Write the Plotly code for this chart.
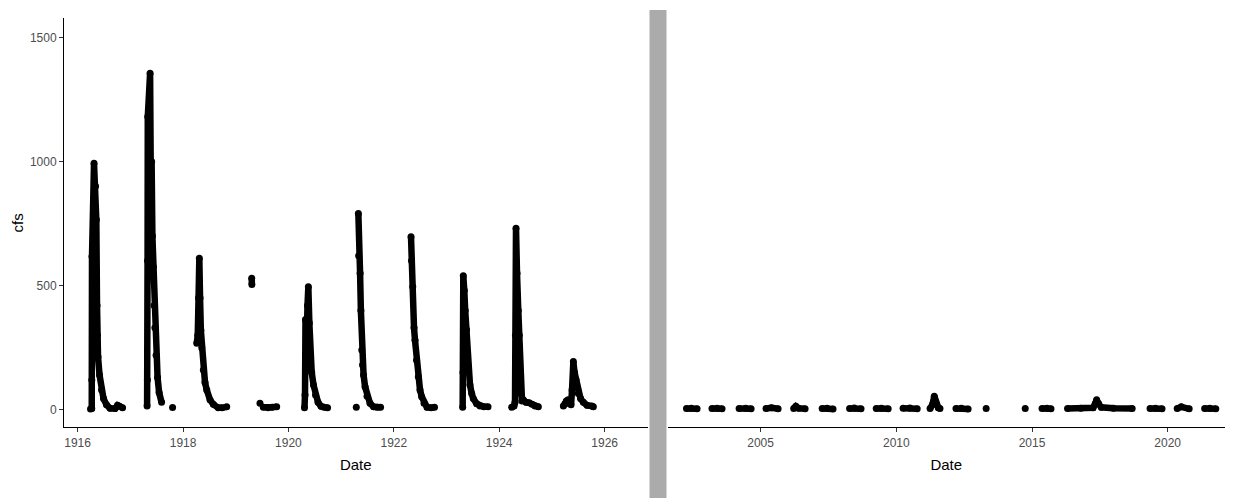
import plotly.graph_objects as go
from datetime import datetime, timedelta

# ---- data (decimal years, cfs) ----
ev1916_yr = [1916.245, 1916.268, 1916.269, 1916.273, 1916.311, 1916.340, 1916.355, 1916.368, 1916.374,
             1916.387, 1916.416, 1916.454, 1916.491, 1916.548, 1916.615, 1916.710, 1916.757, 1916.795, 1916.852]
ev1916_cfs = [3, 5, 120, 617, 993, 900, 765, 420, 300, 214, 140, 80, 45, 20, 6, 5, 18, 14, 8]

ev1917_yr = [1917.317, 1917.323, 1917.326, 1917.330, 1917.374, 1917.390, 1917.403, 1917.418, 1917.436,
             1917.450, 1917.465, 1917.488, 1917.516, 1917.545, 1917.592]
ev1917_cfs = [15, 120, 600, 1180, 1355, 850, 1000, 700, 576, 420, 330, 220, 130, 70, 30]
dot1917_yr = [1917.801]
dot1917_cfs = [9]

ev1918_yr = [1918.260, 1918.279, 1918.294, 1918.309, 1918.323, 1918.338, 1918.355, 1918.385, 1918.417,
             1918.450, 1918.512, 1918.575, 1918.670, 1918.740, 1918.829]
ev1918_cfs = [268, 300, 450, 610, 450, 320, 250, 160, 110, 80, 40, 22, 8, 8, 12]

ev1919a_yr = [1919.304, 1919.307]
ev1919a_cfs = [530, 505]
dot1919_yr = [1919.461]
dot1919_cfs = [26]
ev1919b_yr = [1919.524, 1919.613, 1919.689, 1919.778]
ev1919b_cfs = [10, 8, 10, 12]

ev1920_yr = [1920.305, 1920.315, 1920.324, 1920.344, 1920.362, 1920.378, 1920.397, 1920.416, 1920.442,
             1920.476, 1920.514, 1920.562, 1920.619, 1920.676, 1920.742]
ev1920_cfs = [8, 60, 364, 250, 420, 496, 350, 200, 150, 100, 60, 30, 14, 10, 8]

dot1921_yr = [1921.287]
dot1921_cfs = [10]
ev1921_yr = [1921.326, 1921.332, 1921.359, 1921.374, 1921.391, 1921.406, 1921.425, 1921.454, 1921.491,
             1921.548, 1921.615, 1921.681, 1921.748]
ev1921_cfs = [791, 620, 550, 400, 241, 180, 140, 93, 55, 26, 12, 10, 10]

ev1922_yr = [1922.326, 1922.336, 1922.359, 1922.383, 1922.402, 1922.431, 1922.465, 1922.497, 1922.529,
             1922.573, 1922.630, 1922.706, 1922.772]
ev1922_cfs = [697, 600, 496, 330, 280, 200, 133, 80, 53, 26, 10, 8, 10]

ev1923_yr = [1923.307, 1923.313, 1923.319, 1923.338, 1923.355, 1923.380, 1923.395, 1923.414, 1923.446,
             1923.478, 1923.509, 1923.573, 1923.636, 1923.712, 1923.788]
ev1923_cfs = [10, 150, 540, 480, 400, 322, 220, 160, 100, 66, 45, 24, 15, 12, 12]

ev1924_yr = [1924.237, 1924.281, 1924.300, 1924.309, 1924.319, 1924.338, 1924.362, 1924.381, 1924.395,
             1924.404, 1924.433, 1924.457, 1924.509, 1924.566, 1924.622, 1924.679, 1924.742]
ev1924_cfs = [10, 15, 30, 300, 731, 550, 400, 300, 150, 66, 35, 40, 30, 28, 22, 15, 12]

ev1925_yr = [1925.216, 1925.249, 1925.273, 1925.306, 1925.334, 1925.362, 1925.381, 1925.406, 1925.429,
             1925.457, 1925.501, 1925.543, 1925.596, 1925.666, 1925.755, 1925.786]
ev1925_cfs = [15, 25, 35, 40, 25, 20, 80, 194, 150, 120, 66, 45, 30, 18, 15, 12]

# recent period: one run of points per season
recent_yr = [
    [2002.27, 2002.45, 2002.66], [2003.21, 2003.40, 2003.58], [2004.21, 2004.45, 2004.65],
    [2005.20, 2005.40, 2005.645], [2006.22, 2006.30, 2006.40, 2006.64], [2007.27, 2007.45, 2007.67],
    [2008.28, 2008.45, 2008.70], [2009.26, 2009.45, 2009.70], [2010.25, 2010.50, 2010.77],
    [2011.245, 2011.33, 2011.40, 2011.47, 2011.55, 2011.61], [2012.20, 2012.40, 2012.645],
    [2013.31], [2014.75], [2015.37, 2015.55, 2015.70],
    [2016.31, 2016.80, 2017.25, 2017.33, 2017.38, 2017.45, 2017.55, 2018.00, 2018.69],
    [2019.35, 2019.55, 2019.79], [2020.35, 2020.50, 2020.79], [2021.36, 2021.55, 2021.77],
]
recent_cfs = [
    [5, 6, 4], [5, 6, 4], [5, 6, 4],
    [5, 8, 4], [5, 14, 6, 4], [5, 6, 3],
    [5, 7, 4], [5, 6, 4], [6, 7, 4],
    [5, 20, 55, 25, 8, 5], [5, 6, 3],
    [5], [5], [5, 6, 4],
    [5, 6, 8, 25, 40, 25, 10, 6, 5],
    [5, 6, 4], [5, 12, 4], [5, 6, 4],
]

y_ticks = [0, 500, 1000, 1500]
x1_ticks = [1916, 1918, 1920, 1922, 1924, 1926]
x2_ticks = [2005, 2010, 2015, 2020]


def to_date(d):
    y = int(d)
    start = datetime(y, 1, 1)
    ndays = (datetime(y + 1, 1, 1) - start).days
    return start + timedelta(days=(d - y) * ndays)


def join(groups_x, groups_y):
    xs, ys = [], []
    for gx, gy in zip(groups_x, groups_y):
        xs += [to_date(v) for v in gx] + [None]
        ys += list(gy) + [None]
    return xs, ys


left_x, left_y = join(
    [ev1916_yr, ev1917_yr, dot1917_yr, ev1918_yr, ev1919a_yr, dot1919_yr, ev1919b_yr,
     ev1920_yr, dot1921_yr, ev1921_yr, ev1922_yr, ev1923_yr, ev1924_yr, ev1925_yr],
    [ev1916_cfs, ev1917_cfs, dot1917_cfs, ev1918_cfs, ev1919a_cfs, dot1919_cfs, ev1919b_cfs,
     ev1920_cfs, dot1921_cfs, ev1921_cfs, ev1922_cfs, ev1923_cfs, ev1924_cfs, ev1925_cfs])
right_x, right_y = join(recent_yr, recent_cfs)

W, H = 1238, 498
FONT = "Liberation Sans, Arial, sans-serif"
mark = dict(color="black", size=7)
line = dict(color="black", width=6.5)

fig = go.Figure()
fig.add_trace(go.Scatter(x=left_x, y=left_y, mode="lines+markers", marker=mark, line=line,
                         connectgaps=False, showlegend=False, xaxis="x", yaxis="y"))
fig.add_trace(go.Scatter(x=right_x, y=right_y, mode="lines+markers", marker=mark, line=line,
                         connectgaps=False, showlegend=False, xaxis="x2", yaxis="y2"))

ydom = [1 - 427.3 / H, 1 - 18.3 / H]
yrange = [-70.5, 1576.7]
tickfont = dict(family=FONT, size=12, color="#4D4D4D")
titlefont = dict(family=FONT, size=15, color="black")

common_x = dict(showgrid=False, zeroline=False, showline=True, linecolor="black", linewidth=1,
                ticks="outside", ticklen=4, tickcolor="#333333", tickwidth=1, tickfont=tickfont,
                title=dict(text="Date", font=titlefont, standoff=10))

fig.update_layout(
    width=W, height=H, margin=dict(l=0, r=0, t=0, b=0),
    paper_bgcolor="white", plot_bgcolor="white",
    font=dict(family=FONT),
    xaxis=dict(domain=[64 / W, 647.5 / W], type="date",
               range=[to_date(1915.742), to_date(1926.814)],
               tickvals=[to_date(v) for v in x1_ticks], ticktext=[str(v) for v in x1_ticks],
               anchor="y", **common_x),
    yaxis=dict(domain=ydom, range=yrange, tickvals=y_ticks, ticktext=[str(v) for v in y_ticks],
               showgrid=False, zeroline=False, showline=True, linecolor="black", linewidth=1,
               ticks="outside", ticklen=4, tickcolor="#333333", tickfont=tickfont,
               title=dict(text="cfs", font=titlefont, standoff=2), anchor="x"),
    xaxis2=dict(domain=[667.5 / W, 1225 / W], type="date",
                range=[to_date(2001.57), to_date(2022.11)],
                tickvals=[to_date(v) for v in x2_ticks], ticktext=[str(v) for v in x2_ticks],
                anchor="y2", **common_x),
    yaxis2=dict(domain=ydom, range=yrange, visible=False, anchor="x2"),
    shapes=[dict(type="rect", xref="paper", yref="paper",
                 x0=649.5 / W, x1=666.5 / W, y0=0, y1=1 - 10 / H,
                 fillcolor="#ABABAB", line=dict(width=0), layer="above")],
)

fig.write_html("out.html", config={"displayModeBar": False},
               post_script="document.body.style.margin='0';document.body.style.overflow='hidden';")
